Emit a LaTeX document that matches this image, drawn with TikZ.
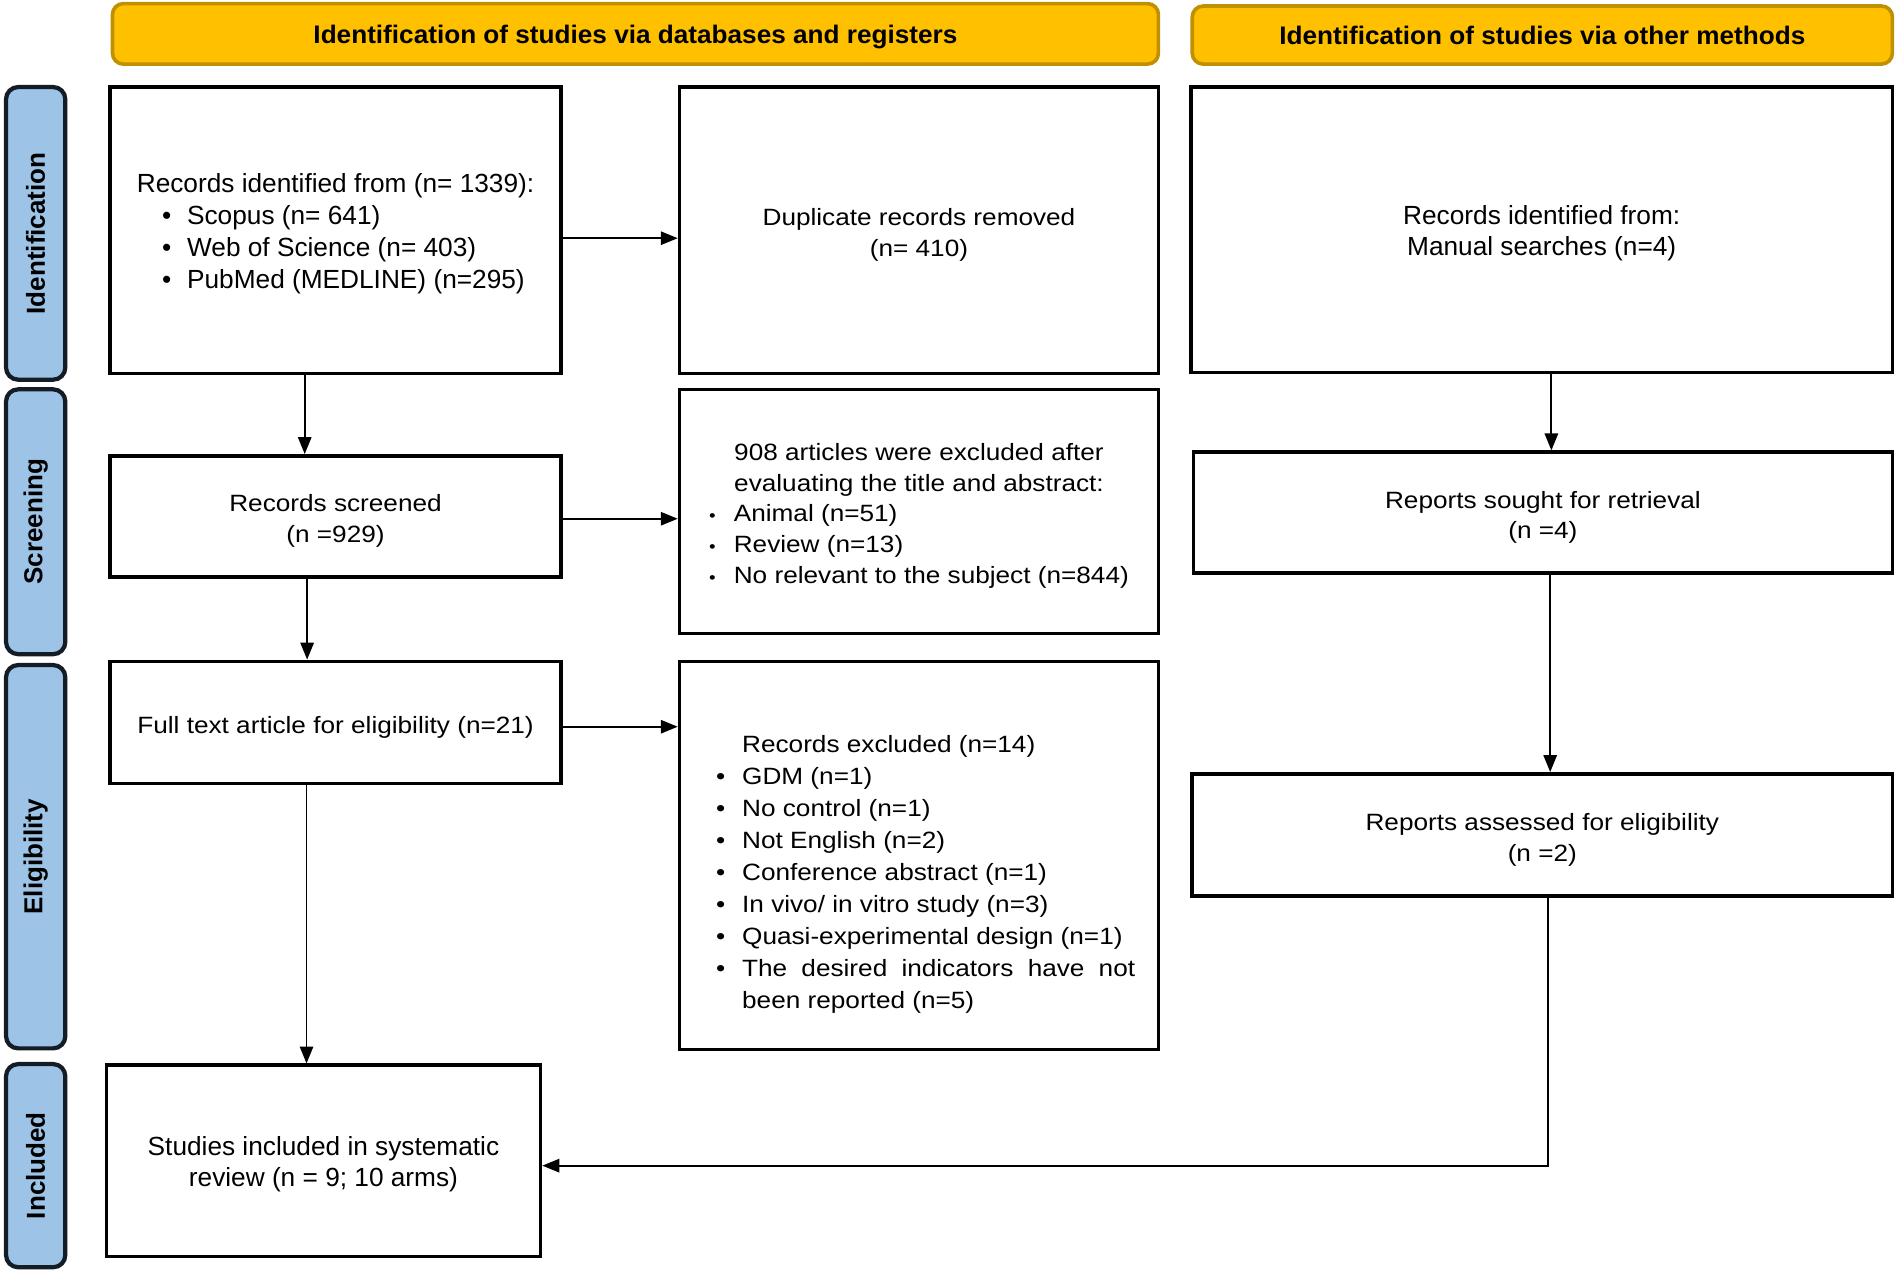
\documentclass[tikz,border=0pt]{standalone}
\usepackage{fontspec}
\setmainfont{Liberation Sans}
\newfontfamily\widefont[FakeStretch=1.11]{Liberation Sans}
\newfontfamily\hdrfont[FakeStretch=1.03]{Liberation Sans Bold}
\newfontfamily\phsfont{Liberation Sans Bold}
\usetikzlibrary{arrows.meta,calc}
\definecolor{hdrfill}{HTML}{FFC000}
\definecolor{hdrline}{HTML}{BF9000}
\definecolor{phsfill}{HTML}{9DC3E6}
\definecolor{phsline}{HTML}{141C26}
\newcommand\dnstrut{\rule{0pt}{22pt}}
\newcommand\smallbul{{\fontsize{14}{14}\selectfont\textbullet}}
\tikzset{
  box/.style={draw=black, line width=3pt, fill=white, rectangle, inner sep=0pt, align=center},
  wtxt/.style={font=\widefont\fontsize{19.5}{25.5}\selectfont},
  ntxt/.style={font=\fontsize{21.7}{25.5}\selectfont},
  hdrbox/.style={draw=hdrline, line width=3pt, fill=hdrfill, rounded corners=9pt, inner sep=0pt,
    text height=15.3pt, text depth=0pt, font=\hdrfont\fontsize{21}{24}\selectfont},
  phsbox/.style={draw=phsline, line width=3.5pt, fill=phsfill, rounded corners=10pt, inner sep=0pt,
    rotate=90, font=\phsfont\fontsize{21.5}{24}\selectfont},
  arr/.style={line width=1.6pt, -{Triangle[length=14pt,width=11pt]}}
}
\begin{document}
\begin{tikzpicture}[x=1pt,y=-1pt]
\useasboundingbox (0,0) rectangle (1568,1051);
% headers
\node[hdrbox, minimum width=865pt, minimum height=50pt] (H1) at (525.5,28) {Identification of studies via databases and registers};
\node[hdrbox, minimum width=579pt, minimum height=48pt] (H2) at (1275.5,29) {Identification of studies via other methods};
% phase labels
\node[phsbox, minimum width=242pt, minimum height=49pt] (P1) at (29.5,193) {Identification};
\node[phsbox, minimum width=219pt, minimum height=49pt] (P2) at (29.5,431.5) {Screening};
\node[phsbox, minimum width=317pt, minimum height=49pt] (P3) at (29.5,708.5) {Eligibility};
\node[phsbox, minimum width=168pt, minimum height=49pt] (P4) at (29.5,964) {Included};
% boxes
\node[box, ntxt, align=left, minimum width=373pt, minimum height=237pt, font=\fontsize{21.7}{26.5}\selectfont] (A) at (277.5,190.5)
  {\dnstrut Records identified from (n= 1339):\hspace{5pt}\\
   \hspace{21pt}\textbullet\hspace{13pt}Scopus (n= 641)\\
   \hspace{21pt}\textbullet\hspace{13pt}Web of Science (n= 403)\\
   \hspace{21pt}\textbullet\hspace{13pt}PubMed (MEDLINE) (n=295)};
\node[box, wtxt, minimum width=396pt, minimum height=237pt] (B) at (760,190.5)
  {\dnstrut Duplicate records removed\\(n= 410)};
\node[box, ntxt, minimum width=580pt, minimum height=236pt] (C) at (1275,190)
  {\dnstrut Records identified from:\\Manual searches (n=4)};
\node[box, wtxt, minimum width=373pt, minimum height=100pt] (D) at (277.5,427)
  {\dnstrut Records screened\\(n =929)};
\node[box, wtxt, minimum width=396pt, minimum height=202pt] (E) at (760,423)
  {\begin{tabular}{@{}l@{\hspace{15pt}}l@{}}
   \multicolumn{2}{@{}c@{}}{\rule{0pt}{25pt}908 articles were excluded after}\\
   \multicolumn{2}{@{}c@{}}{evaluating the title and abstract:}\\
   \smallbul & Animal (n=51)\\
   \smallbul & Review (n=13)\\
   \smallbul & No relevant to the subject (n=844)
   \end{tabular}};
\node[box, wtxt, minimum width=578pt, minimum height=100pt] (F) at (1276,424)
  {\dnstrut Reports sought for retrieval\\(n =4)};
\node[box, wtxt, minimum width=373pt, minimum height=101pt] (G) at (277.5,597.5)
  {\dnstrut Full text article for eligibility (n=21)};
\node[box, minimum width=396pt, minimum height=321pt] (H) at (760,707.5) {};
\node[wtxt, inner sep=0pt, anchor=west, font=\widefont\fontsize{19.5}{26.4}\selectfont] (Ht) at (592,723)
  {\begin{tabular}{@{}l@{\hspace{14pt}}l@{}}
   & Records excluded (n=14)\\
   \textbullet & GDM (n=1)\\
   \textbullet & No control (n=1)\\
   \textbullet & Not English (n=2)\\
   \textbullet & Conference abstract (n=1)\\
   \textbullet & In vivo/ in vitro study (n=3)\\
   \textbullet & Quasi-experimental design (n=1)\\
   \textbullet & \makebox[325pt][s]{The desired indicators have not}\\
   & been reported (n=5)
   \end{tabular}};
\node[box, wtxt, minimum width=579pt, minimum height=101pt] (I) at (1275.5,690.5)
  {\dnstrut Reports assessed for eligibility\\(n =2)};
\node[box, ntxt, minimum width=359pt, minimum height=158pt] (J) at (267.5,960)
  {\dnstrut Studies included in systematic\\review (n = 9; 10 arms)};
% connectors
\draw[arr] (A.east |- 0,197) -- (B.west |- 0,197);
\draw[arr] (A.south -| 252,0) -- (D.north -| 252,0);
\draw[arr] (D.east |- 0,429) -- (E.west |- 0,429);
\draw[arr] (D.south -| 254,0) -- (G.north -| 254,0);
\draw[arr] (G.east |- 0,601) -- (H.west |- 0,601);
\draw[arr] (G.south -| 253.5,0) -- (J.north -| 253.5,0);
\draw[arr] (C.south -| 1283,0) -- (F.north -| 1283,0);
\draw[arr] (F.south -| 1282,0) -- (I.north -| 1282,0);
\draw[arr] (I.south -| 1280,0) |- (J.east |- 0,964);
\end{tikzpicture}
\end{document}
